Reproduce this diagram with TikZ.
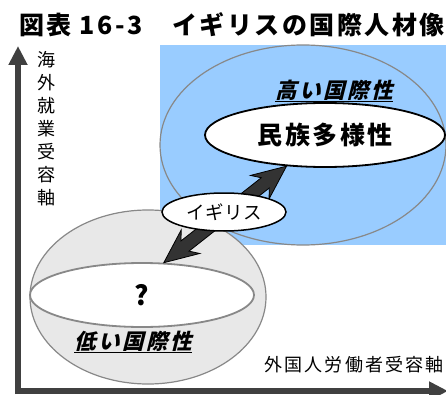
\documentclass[tikz,border=0pt]{standalone}
\usepackage{fontspec}
\usetikzlibrary{shapes.geometric,calc,arrows.meta}
\newfontfamily\jptitle{Noto Sans CJK JP}[LetterSpace=10]
\newfontfamily\jpbig{Noto Sans CJK JP}[LetterSpace=10]
\newfontfamily\jpuk{Noto Sans CJK JP}[LetterSpace=3]
\newfontfamily\jpslant{Noto Sans CJK JP}[FakeSlant=0.25,LetterSpace=12]
\newfontfamily\jpax{Noto Sans CJK JP}[LetterSpace=12]
\newfontfamily\jpplain{Noto Sans CJK JP}
\definecolor{skyblue}{HTML}{99CCFF}
\definecolor{spheregray}{HTML}{E8E8E8}
\definecolor{rimgray}{HTML}{888888}
\definecolor{axisgray}{HTML}{404040}
\definecolor{arrowdark}{HTML}{333333}
\begin{document}
\begin{tikzpicture}[x=1pt,y=1pt,
  txt/.style={inner sep=0pt},
  rim/.style={ellipse, draw=rimgray, inner sep=0pt},
  bubble/.style={ellipse, draw=black, fill=white, inner sep=0pt},
  axisline/.style={line width=6pt, draw=axisgray, -{Triangle[width=18pt,length=19pt]}},
  bigarrow/.style={fill=arrowdark, draw=black, line width=0.8pt, line join=miter}]
\useasboundingbox (0,0) rectangle (446,394);
% background panel
\fill[skyblue] (160,149) rectangle (446,349);
% high sphere outline
\node[rim, line width=1.2pt, minimum width=286pt, minimum height=200pt] (high) at (303,249) {};
% low sphere
\node[rim, fill=spheregray, line width=1.2pt, minimum width=236pt, minimum height=174pt] (low) at (148,97) {};
\node[rim, fill=white, line width=1.8pt, minimum width=224pt, minimum height=64pt] (qell) at (142,99) {\jpplain\bfseries\fontsize{27}{30}\selectfont ?};
% ethnic diversity
\node[bubble, line width=1.8pt, minimum width=240pt, minimum height=64pt] (eth) at (325,259) {\jpbig\bfseries\fontsize{25}{30}\selectfont 民族多様性};
% double arrow
\coordinate (L) at (qell.56);
\coordinate (U) at (eth.219);
\draw[bigarrow] (L) -- ($(L)!37.16pt!23.8:(U)$) -- ($(L)!27.77pt!13.54:(U)$)
  -- ($(U)!27.77pt!-13.54:(L)$) -- ($(U)!37.16pt!-23.8:(L)$) -- (U)
  -- ($(U)!37.16pt!23.8:(L)$) -- ($(U)!27.77pt!13.54:(L)$)
  -- ($(L)!27.77pt!-13.54:(U)$) -- ($(L)!37.16pt!-23.8:(U)$) -- cycle;
% UK bubble
\node[bubble, line width=1.5pt, minimum width=124pt, minimum height=38pt] (uk) at (224,182) {\jpuk\fontsize{18.5}{22}\selectfont イギリス};
% labels
\node[txt] (hightxt) at (334,303) {\jpslant\bfseries\fontsize{21.5}{25}\selectfont\underline{高い国際性}};
\node[txt] (lowtxt) at (133,52) {\jpslant\bfseries\fontsize{21.5}{25}\selectfont\underline{低い国際性}};
% axes
\coordinate (O) at (15,3);
\coordinate (Ov) at (18,0);
\coordinate (ytip) at (18,348);
\coordinate (xtip) at (448,3);
\draw[axisline] (Ov) -- (ytip);
\draw[axisline] (O) -- (xtip);
\node[txt, align=center, font=\jpplain\fontsize{18}{23}\selectfont] (ylab) at (46,265) {海\\外\\就\\業\\受\\容\\軸};
\node[txt, anchor=east] (xlab) at (444,29) {\jpax\fontsize{18}{22}\selectfont 外国人労働者受容軸};
% title
\node[txt, anchor=west] (t1) at (19,369) {\jptitle\bfseries\fontsize{25}{30}\selectfont 図表 16-3};
\node[txt, anchor=east] (t2) at (445,369) {\jptitle\bfseries\fontsize{25}{30}\selectfont イギリスの国際人材像};
\end{tikzpicture}
\end{document}
